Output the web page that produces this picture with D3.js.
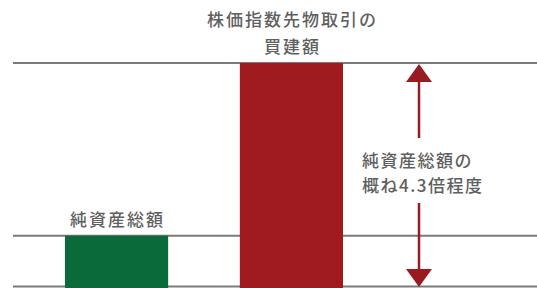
<!DOCTYPE html>
<html>
<head>
<meta charset="utf-8">
<script src="https://cdn.jsdelivr.net/npm/d3@7"></script>
<style>
  body { margin: 0; background: #fff; }
  text { font-family: "Noto Sans CJK JP", sans-serif; fill: #5f5f5f; font-weight: 500; }
</style>
</head>
<body>
<div id="chart"></div>
<script>
const categories = ['純資産総額', '株価指数先物取引の買建額'];
const values = [1, 4.3];
const barLabels = [['純資産総額'], ['株価指数先物取引の', '買建額']];
const colors = ['#0a6a3a', '#a01b20'];
const refLevels = [0, 1, 4.3];
const noteLines = ['純資産総額の', '概ね4.3倍程度'];

const width = 537;
const height = 288;

const svg = d3.select('#chart')
	.append('svg')
	.attr('width', width)
	.attr('height', height);

// bands land at x=65 and x=240, ~103px wide
const xScale = d3.scaleBand()
	.domain(categories)
	.range([65, 343])
	.paddingInner(0.41)
	.paddingOuter(0);

const yScale = d3.scaleLinear()
	.domain([0, 4.3])
	.range([288, 63]);

// reference lines
svg.selectAll('.ref')
	.data(refLevels)
	.enter()
	.append('line')
	.attr('class', 'ref')
	.attr('x1', 13)
	.attr('x2', width)
	.attr('y1', d => Math.min(yScale(d), height - 1.5))
	.attr('y2', d => Math.min(yScale(d), height - 1.5))
	.attr('stroke', '#7a7a7a')
	.attr('stroke-width', 2);

// bars
svg.selectAll('.bar')
	.data(values)
	.enter()
	.append('rect')
	.attr('class', 'bar')
	.attr('x', (d, i) => xScale(categories[i]))
	.attr('y', d => yScale(d))
	.attr('width', xScale.bandwidth())
	.attr('height', d => yScale(0) - yScale(d))
	.attr('fill', (d, i) => colors[i]);

// bar labels
values.forEach((v, i) => {
	const lines = barLabels[i];
	const cx = xScale(categories[i]) + xScale.bandwidth() / 2;
	lines.forEach((t, j) => {
		svg.append('text')
			.attr('x', cx + 1)
			.attr('y', yScale(v) - 10 - (lines.length - 1 - j) * 27)
			.attr('text-anchor', 'middle')
			.attr('font-size', 17)
			.attr('letter-spacing', 2)
			.text(t);
	});
});

// double arrow
const ax = 419;
const yTop = yScale(values[1]);
const yBot = yScale(0);
const arrowColor = '#9a1a22';
const headW = 13, headH = 18;

svg.append('line')
	.attr('x1', ax).attr('x2', ax)
	.attr('y1', yTop + headH).attr('y2', 138)
	.attr('stroke', arrowColor).attr('stroke-width', 2.5);
svg.append('line')
	.attr('x1', ax).attr('x2', ax)
	.attr('y1', 203).attr('y2', yBot - headH)
	.attr('stroke', arrowColor).attr('stroke-width', 2.5);
svg.append('path')
	.attr('d', `M${ax},${yTop + 1}L${ax - headW},${yTop + headH + 1}L${ax + headW},${yTop + headH + 1}Z`)
	.attr('fill', arrowColor);
svg.append('path')
	.attr('d', `M${ax},${yBot - 1}L${ax - headW},${yBot - headH - 1}L${ax + headW},${yBot - headH - 1}Z`)
	.attr('fill', arrowColor);

// note text
noteLines.forEach((t, j) => {
	svg.append('text')
		.attr('x', 362)
		.attr('y', 167 + j * 25)
		.attr('font-size', 17)
		.attr('letter-spacing', 1.5)
		.text(t);
});
</script>
</body>
</html>
